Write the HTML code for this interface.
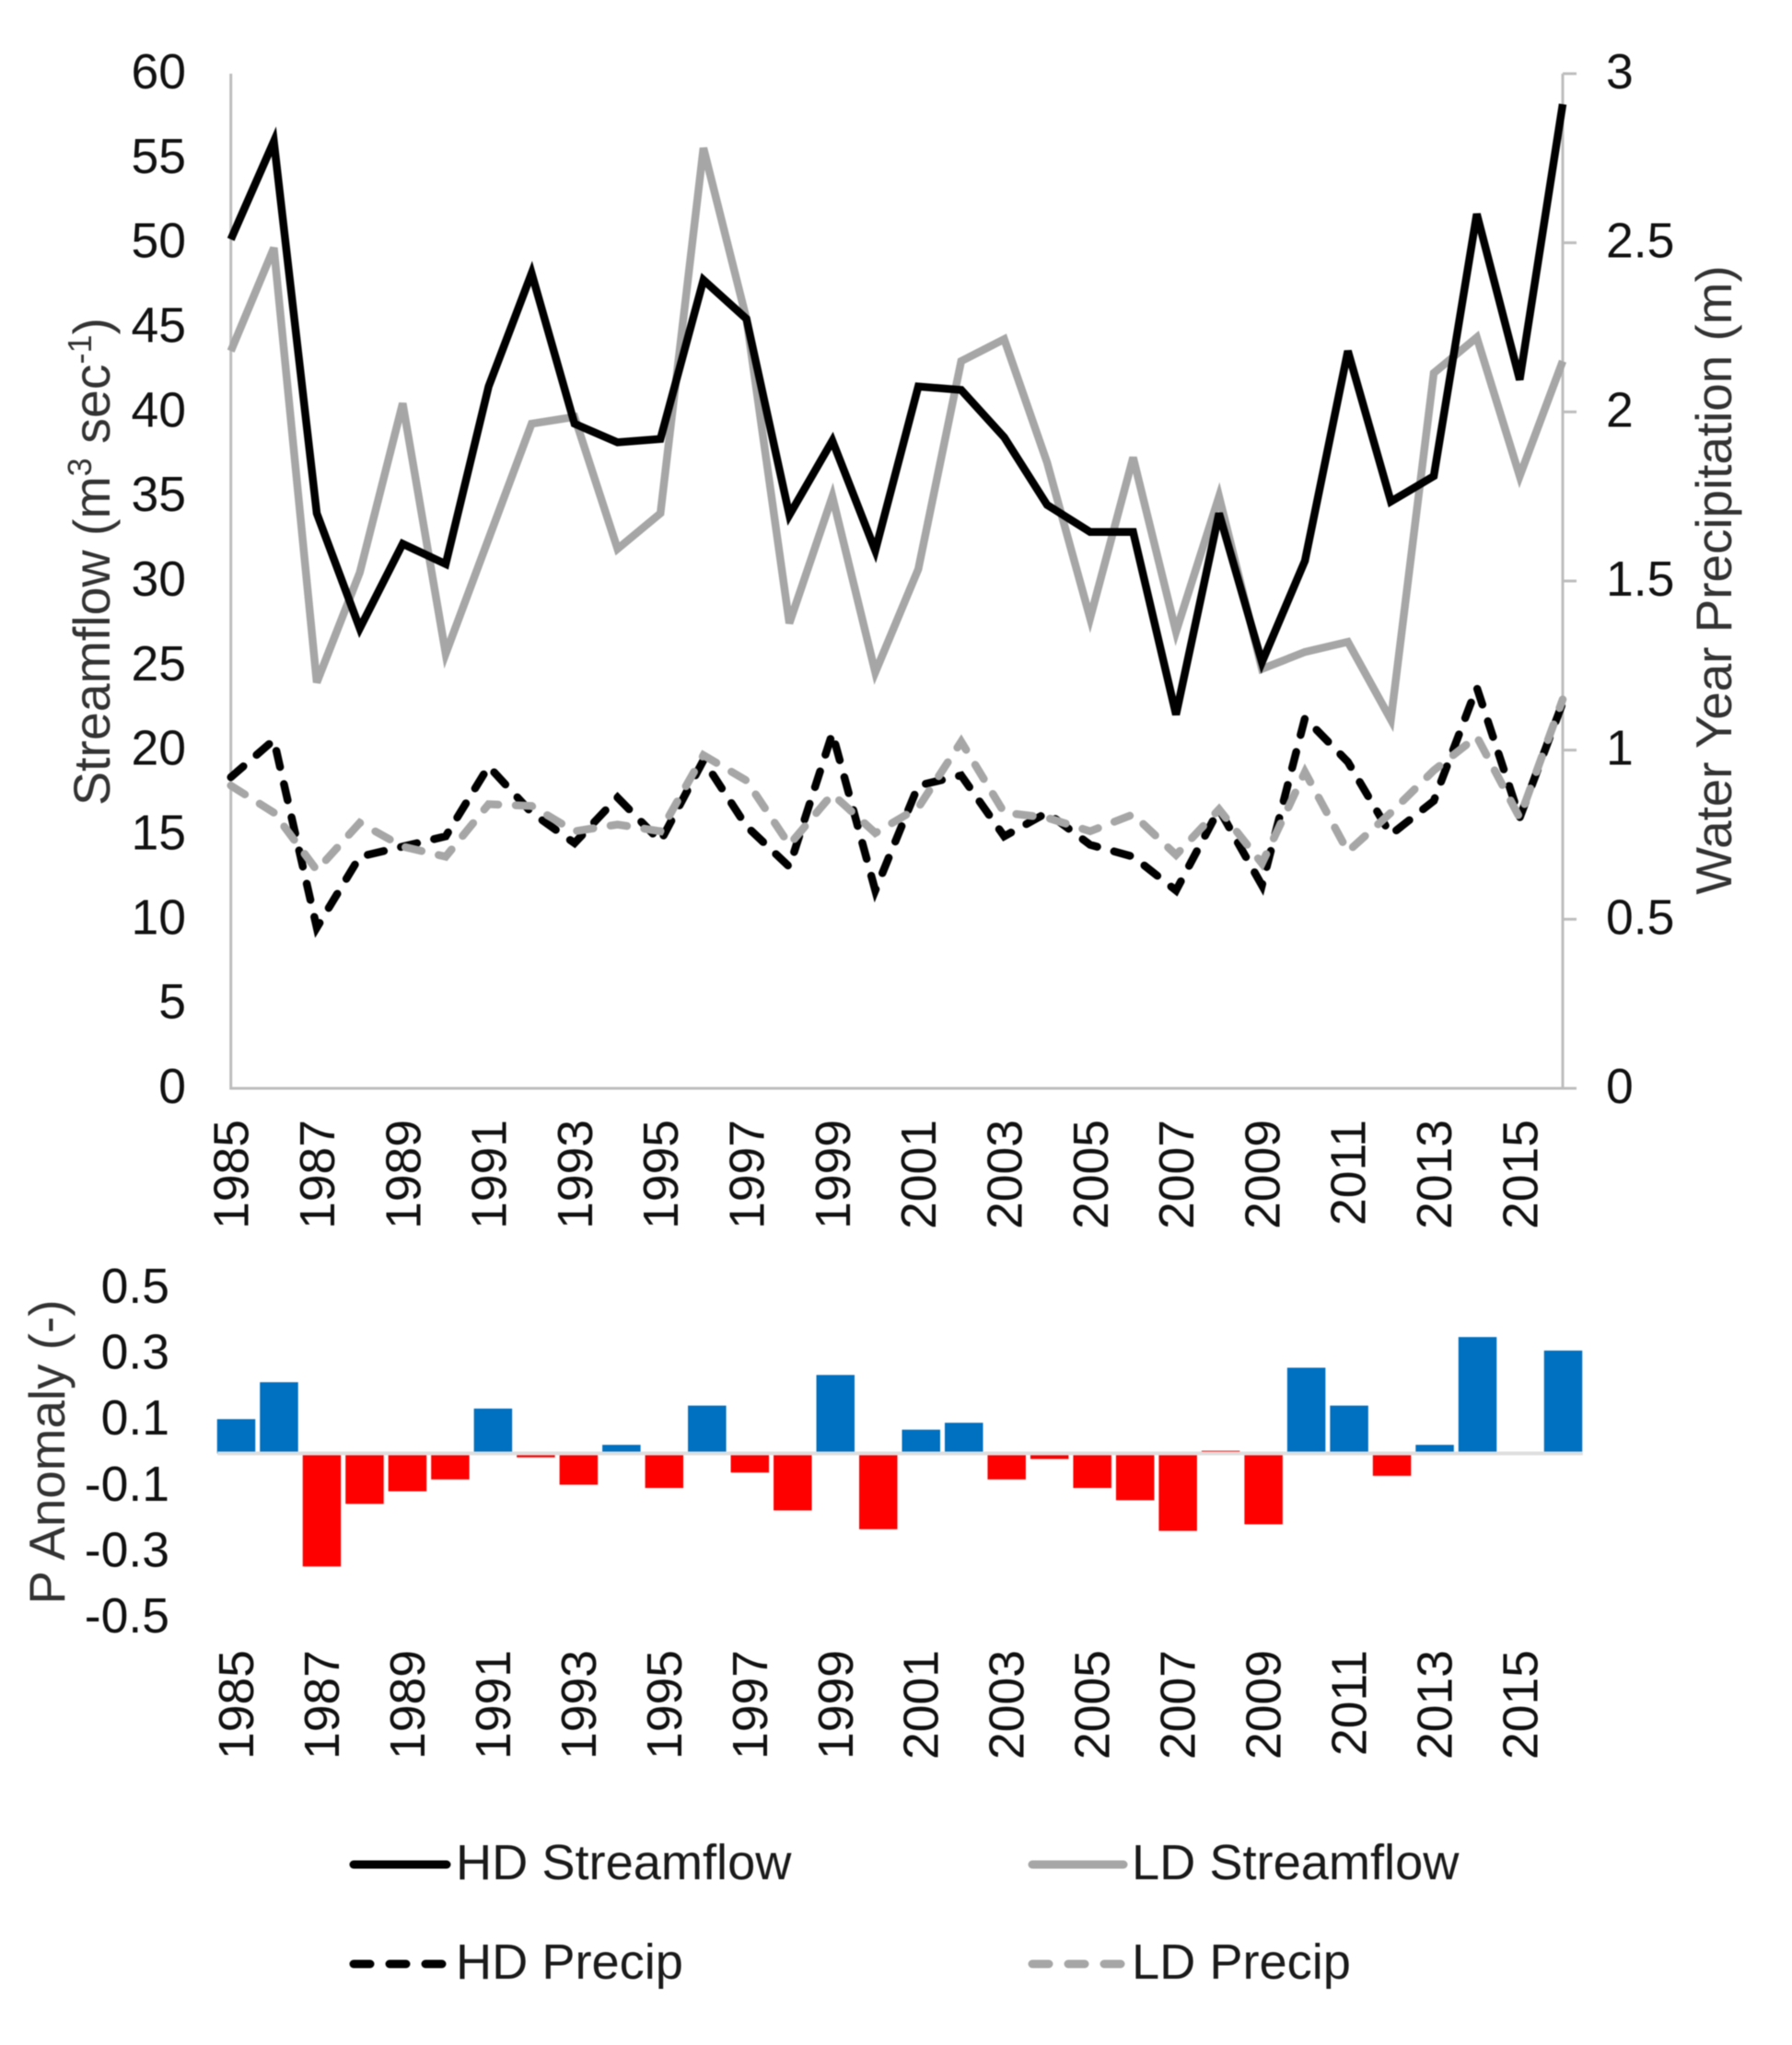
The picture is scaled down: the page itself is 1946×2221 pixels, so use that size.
<!DOCTYPE html>
<html>
<head>
<meta charset="utf-8">
<style>
html,body{margin:0;padding:0;background:#fff;}
svg{display:block;filter:blur(0.5px);}
text{font-family:"Liberation Sans",sans-serif;}
</style>
</head>
<body>
<svg id="chart" width="1946" height="2221" viewBox="0 0 1946 2221" xmlns="http://www.w3.org/2000/svg">
  <rect width="1946" height="2221" fill="#fff"/>
  <g id="top-axes"></g>
  <g id="top-series"></g>
  <g id="bars"></g>
  <g id="bottom-axes"></g>

  <text transform="translate(119,610) rotate(-90)" text-anchor="middle" font-size="55.5" fill="#333">Streamflow (m<tspan font-size="36" dy="-20">3</tspan><tspan dy="20"> sec</tspan><tspan font-size="36" dy="-20">-1</tspan><tspan dy="20">)</tspan></text>
  <text transform="translate(1880,630) rotate(-90)" text-anchor="middle" font-size="54.8" fill="#333">Water Year Precipitation (m)</text>
  <text transform="translate(70,1577) rotate(-90)" text-anchor="middle" font-size="54.8" fill="#333">P Anomaly (-)</text>

  <g>
    <g>
      <line x1="384" y1="2025" x2="485" y2="2025" stroke="#000" stroke-width="9" stroke-linecap="round"/>
      <text x="495" y="2041" font-size="54.2" fill="#1a1a1a">HD Streamflow</text>
    </g>
    <g>
      <line x1="1121" y1="2025" x2="1220" y2="2025" stroke="#A6A6A6" stroke-width="9" stroke-linecap="round"/>
      <text x="1229" y="2041" font-size="54.2" fill="#1a1a1a">LD Streamflow</text>
    </g>
    <g>
      <line x1="384" y1="2133" x2="484" y2="2133" stroke="#000" stroke-width="9" stroke-linecap="round" stroke-dasharray="18 21"/>
      <text x="495" y="2149" font-size="54.2" fill="#1a1a1a">HD Precip</text>
    </g>
    <g>
      <line x1="1121" y1="2133" x2="1221" y2="2133" stroke="#A6A6A6" stroke-width="9" stroke-linecap="round" stroke-dasharray="18 21"/>
      <text x="1229" y="2149" font-size="54.2" fill="#1a1a1a">LD Precip</text>
    </g>
  </g>
</svg>
<script>
const years = [1985,1986,1987,1988,1989,1990,1991,1992,1993,1994,1995,1996,1997,1998,1999,2000,2001,2002,2003,2004,2005,2006,2007,2008,2009,2010,2011,2012,2013,2014,2015,2016];
const leftTicks = [0,5,10,15,20,25,30,35,40,45,50,55,60];
const rightTicks = [0,0.5,1,1.5,2,2.5,3];
const anomalyTicks = [-0.5,-0.3,-0.1,0.1,0.3,0.5];
const hdStreamflow = [50.2,56,34,27.2,32.2,31,41.5,48.2,39.3,38.2,38.4,47.8,45.5,33.9,38.3,31.8,41.5,41.3,38.5,34.5,32.9,32.9,22.1,34,25.2,31.2,43.6,34.7,36.2,51.7,41.9,58.2];
const ldStreamflow = [43.6,49.7,24,30.5,40.5,25.7,32.5,39.3,39.7,31.9,34,55.6,45.5,27.5,35,24.6,30.7,43,44.3,37,27.8,37.3,27,35,24.8,25.8,26.4,21.8,42.3,44.4,36.2,43];
const hdPrecip = [0.92,1.03,0.475,0.685,0.715,0.745,0.952,0.815,0.725,0.86,0.73,0.97,0.775,0.655,1.05,0.585,0.895,0.925,0.745,0.815,0.72,0.685,0.585,0.825,0.6,1.095,0.965,0.75,0.85,1.185,0.8,1.14];
const ldPrecip = [0.895,0.815,0.645,0.785,0.715,0.685,0.84,0.835,0.76,0.78,0.76,0.985,0.91,0.72,0.87,0.755,0.83,1.025,0.815,0.8,0.76,0.81,0.69,0.825,0.665,0.935,0.7,0.815,0.94,1.04,0.8,1.15];
const anomaly = [0.104,0.216,-0.343,-0.153,-0.115,-0.079,0.136,-0.012,-0.095,0.026,-0.105,0.145,-0.058,-0.173,0.238,-0.23,0.072,0.093,-0.079,-0.017,-0.105,-0.142,-0.235,0.008,-0.215,0.26,0.145,-0.068,0.026,0.353,0,0.312];

const NS = 'http://www.w3.org/2000/svg';
const topLeft = 250.7, topRight = 1697, topY0 = 1182, topY1 = 80;
const barFirst = 257, barLast = 1698, barZero = 1578.5, barPerUnit = 358, barWidth = 41.5;

function topX(i){ return topLeft + (topRight - topLeft) * i / (years.length - 1); }
function leftY(v){ return topY0 - (topY0 - topY1) * v / 60; }
function rightY(v){ return topY0 - (topY0 - topY1) * v / 3; }
function barX(i){ return barFirst + (barLast - barFirst) * i / (years.length - 1); }
function anomalyY(v){ return barZero - barPerUnit * v; }

function make(parent, tag, attrs, txt){
  const el = document.createElementNS(NS, tag);
  for (const k in attrs) el.setAttribute(k, attrs[k]);
  if (txt !== undefined) el.textContent = txt;
  parent.appendChild(el);
  return el;
}

const topAxes = document.getElementById('top-axes');
const axisColor = '#BDBDBD';

let axisEl = make(topAxes, 'line', {x1:topLeft,y1:topY1,x2:topLeft,y2:topY0+1.5,stroke:axisColor,'stroke-width':3});


axisEl = make(topAxes, 'line', {x1:topRight,y1:topY1,x2:topRight,y2:topY0,stroke:axisColor,'stroke-width':3});


axisEl = make(topAxes, 'line', {x1:topLeft,y1:topY0,x2:topRight+15,y2:topY0,stroke:axisColor,'stroke-width':3});



leftTicks.forEach(function(t){
  const el = make(topAxes, 'text', {x:202,y:leftY(t)+16,'text-anchor':'end','font-size':53.5,fill:'#111'}, String(t));
  
  
});
rightTicks.forEach(function(t){
  const tick = make(topAxes, 'line', {x1:topRight,y1:rightY(t),x2:topRight+15,y2:rightY(t),stroke:axisColor,'stroke-width':3});
  
  
  const el = make(topAxes, 'text', {x:1744,y:rightY(t)+16,'font-size':53.5,fill:'#111'}, String(t));
  
  
});
years.forEach(function(y, i){
  if (i % 2 !== 0 || i === 31) return;
  const bx = topX(i) + 19;
  const el = make(topAxes, 'text', {transform:'translate('+bx+',1216) rotate(-90)','text-anchor':'end','font-size':53.5,fill:'#111'}, String(y));
  
  
});

const topSeries = document.getElementById('top-series');
function linePoints(values, yFn){
  return values.map(function(v, i){ return topX(i).toFixed(1) + ',' + yFn(v).toFixed(1); }).join(' ');
}
const common = {fill:'none','stroke-width':8.5,'stroke-linejoin':'miter','stroke-miterlimit':4};

const ldFlowLine = make(topSeries, 'polyline', Object.assign({points:linePoints(ldStreamflow, leftY),stroke:'#A6A6A6'}, common));


const hdFlowLine = make(topSeries, 'polyline', Object.assign({points:linePoints(hdStreamflow, leftY),stroke:'#000'}, common));


const hdPrecipLine = make(topSeries, 'polyline', Object.assign({points:linePoints(hdPrecip, rightY),stroke:'#000','stroke-dasharray':'18 19','stroke-linecap':'round'}, common));


const ldPrecipLine = make(topSeries, 'polyline', Object.assign({points:linePoints(ldPrecip, rightY),stroke:'#A6A6A6','stroke-dasharray':'18 19','stroke-linecap':'round'}, common));



const barsG = document.getElementById('bars');
anomaly.forEach(function(v, i){
  if (v === 0) return;
  const y0 = anomalyY(0), y1 = anomalyY(v);
  const isRed = v < 0 || i === 23;
  const r = make(barsG, 'rect', {
    x: barX(i) - barWidth / 2 - 0.5,
    y: Math.min(y0, y1),
    width: barWidth,
    height: Math.abs(y1 - y0),
    fill: isRed ? '#FF0000' : '#0070C0'
  });
  
  
});

const bottomAxes = document.getElementById('bottom-axes');
const zeroLine = make(bottomAxes, 'line', {x1:barFirst-barWidth/2,y1:anomalyY(0),x2:barLast+barWidth/2,y2:anomalyY(0),stroke:'#DEDEDE','stroke-width':4});


anomalyTicks.forEach(function(t){
  const el = make(bottomAxes, 'text', {x:184,y:anomalyY(t)+15.5,'text-anchor':'end','font-size':53.5,fill:'#111'}, String(t));
  
  
});
years.forEach(function(y, i){
  if (i % 2 !== 0 || i === 31) return;
  const bx = 275 + (barLast - barFirst) * i / (years.length - 1);
  const el = make(bottomAxes, 'text', {transform:'translate('+bx+',1792) rotate(-90)','text-anchor':'end','font-size':53.5,fill:'#111'}, String(y));
  
  
});
</script>
</body>
</html>
